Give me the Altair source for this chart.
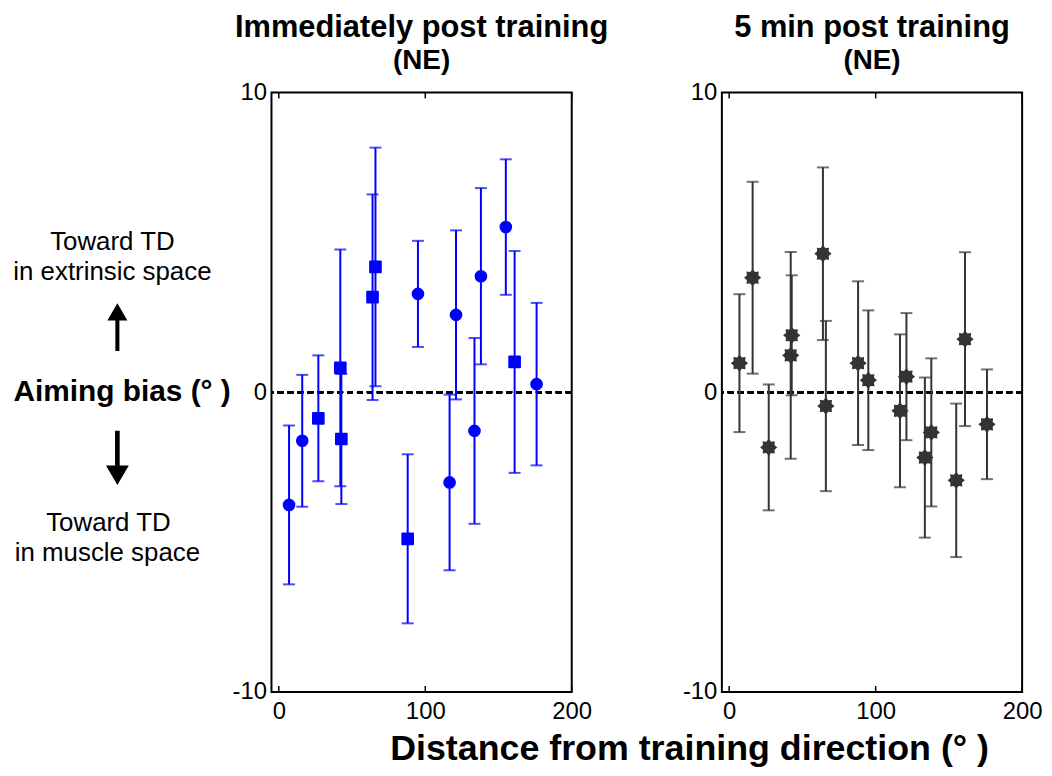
import math
import altair as alt
import pandas as pd

# ---------------- data ----------------
x_dist = [7, 16, 27, 42, 42.7, 64, 66, 88, 95, 116.6, 121, 133.6, 138, 155, 161, 176]

imm_bias = [-3.76, -1.62, -0.87, 0.81, -1.56, 3.17, 4.18, -4.89, 3.28, -3.01,
            2.58, -1.29, 3.87, 5.51, 1.01, 0.27]
imm_err = [2.65, 2.2, 2.1, 3.95, 2.17, 3.43, 3.98, 2.82, 1.77, 2.93,
           2.82, 3.1, 2.94, 2.26, 3.7, 2.71]
imm_shape = ["circle", "circle", "square", "square", "square", "square", "square",
             "square", "circle", "circle", "circle", "circle", "circle", "circle",
             "square", "circle"]

post5_bias = [0.97, 3.82, -1.84, 1.23, 1.90, 4.62, -0.46, 0.97, 0.40, -0.62,
              0.52, -2.18, -1.34, -2.94, 1.77, -1.07]
post5_err = [2.3, 3.2, 2.1, 3.45, 2.0, 2.88, 2.84, 2.73, 2.33, 2.55,
             2.12, 2.67, 2.47, 2.56, 2.9, 1.83]

x_ticks = [0, 100, 200]
y_ticks = [-10, 0, 10]

# ---------------- styling ----------------
FONT = "Liberation Sans"
W, H = 302, 603
BLUE = "#0000ff"
GRAY = "#333333"

# 8-point star marker for the second panel
pts = []
for k in range(16):
    a = math.pi * k / 8
    r = 1.0 if k % 2 == 0 else 0.72
    pts.append((r * math.sin(a), -r * math.cos(a)))
STAR = "M" + "L".join(f"{px:.3f},{py:.3f}" for px, py in pts) + "Z"

ARROW = "M0,-1L0.42,-0.28L0.085,-0.28L0.085,1L-0.085,1L-0.085,-0.28L-0.42,-0.28Z"

xs = alt.Scale(domain=[-5, 200], nice=False, zero=False)
ys = alt.Scale(domain=[-10, 10], nice=False, zero=False)


def make_df(bias, err, shape=None):
    d = pd.DataFrame({"x": x_dist, "bias": bias, "err": err})
    if shape is not None:
        d["shape"] = shape
    d["lo"] = d["bias"] - d["err"]
    d["hi"] = d["bias"] + d["err"]
    return d


def panel(df, color, title, point_layer, x_title=False, annotations=None):
    common = dict(ticks=False, domain=False, grid=False, labelFontSize=24,
                  labelFont=FONT, labelColor="black", labelFlush=False,
                  labelExpr="'' + datum.value")
    if x_title:
        x_axis = alt.Axis(values=x_ticks, labelPadding=8,
                          title="Distance from training direction (° )",
                          titleFont=FONT, titleFontSize=36, titleFontWeight="bold",
                          titleColor="black", titleX=420, titleY=57,
                          titleAlign="center", titleBaseline="middle", **common)
    else:
        x_axis = alt.Axis(values=x_ticks, labelPadding=8, title=None, **common)
    y_axis = alt.Axis(values=y_ticks, labelPadding=5, title=None, **common)

    base = alt.Chart(df)
    X = alt.X("x:Q", scale=xs, axis=x_axis)
    zero = alt.Chart(df).mark_rule(color="black", strokeWidth=2,
                                   strokeDash=[6, 4]).encode(
        y=alt.Y(datum=0, scale=ys, axis=y_axis))
    bars = base.mark_rule(color=color, strokeWidth=2).encode(
        x=X, y=alt.Y("lo:Q", scale=ys, axis=y_axis), y2="hi:Q")
    cap_lo = base.mark_tick(color=color, orient="horizontal", size=12,
                            thickness=2).encode(x=X, y=alt.Y("lo:Q", scale=ys))
    cap_hi = base.mark_tick(color=color, orient="horizontal", size=12,
                            thickness=2).encode(x=X, y=alt.Y("hi:Q", scale=ys))
    ticks_df = pd.DataFrame({"t": x_ticks})
    tick_b = alt.Chart(ticks_df).mark_rule(color="black", strokeWidth=1.5).encode(
        x=alt.X("t:Q", scale=xs), y=alt.value(H), y2=alt.value(H - 6))
    tick_t = alt.Chart(ticks_df).mark_rule(color="black", strokeWidth=1.5).encode(
        x=alt.X("t:Q", scale=xs), y=alt.value(0), y2=alt.value(6))

    layers = [zero, bars, cap_lo, cap_hi, point_layer(base, X), tick_b, tick_t]
    if annotations:
        layers += annotations
    return alt.layer(*layers).properties(
        width=W, height=H,
        title=alt.TitleParams(text=title, subtitle="(NE)", font=FONT, fontSize=31,
                              fontWeight="bold", color="black",
                              subtitleFont=FONT, subtitleFontSize=28,
                              subtitleFontWeight="bold", subtitleColor="black",
                              anchor="middle", offset=5, subtitlePadding=3))


def imm_points(base, X):
    return base.mark_point(filled=True, opacity=1, color=BLUE, stroke=BLUE,
                           strokeWidth=2, strokeJoin="round", size=115).encode(
        x=X, y=alt.Y("bias:Q", scale=ys),
        shape=alt.Shape("shape:N", scale=alt.Scale(domain=["circle", "square"],
                                                   range=["circle", "square"]),
                        legend=None))


def post_points(base, X):
    return base.mark_point(filled=True, opacity=1, color=GRAY, shape=STAR,
                           size=300).encode(x=X, y=alt.Y("bias:Q", scale=ys))


one = pd.DataFrame({"a": [0]})
annots = [
    alt.Chart(one).mark_text(text="Toward TD", font=FONT, fontSize=26,
                             color="black", align="center", baseline="middle")
    .encode(x=alt.value(-160), y=alt.Y(datum=5.02, scale=ys)),
    alt.Chart(one).mark_text(text="in extrinsic space", font=FONT, fontSize=26,
                             color="black", align="center", baseline="middle")
    .encode(x=alt.value(-160), y=alt.Y(datum=4.0, scale=ys)),
    alt.Chart(one).mark_text(text="Toward TD", font=FONT, fontSize=26,
                             color="black", align="center", baseline="middle")
    .encode(x=alt.value(-164), y=alt.Y(datum=-4.36, scale=ys)),
    alt.Chart(one).mark_text(text="in muscle space", font=FONT, fontSize=26,
                             color="black", align="center", baseline="middle")
    .encode(x=alt.value(-165), y=alt.Y(datum=-5.36, scale=ys)),
    alt.Chart(one).mark_text(text="Aiming bias (° )", font=FONT, fontSize=30,
                             fontWeight="bold", color="black", align="right",
                             baseline="middle")
    .encode(x=alt.value(-41), y=alt.Y(datum=0, scale=ys)),
    alt.Chart(one).mark_point(shape=ARROW, filled=True, opacity=1, color="black",
                              size=2300)
    .encode(x=alt.value(-155), y=alt.Y(datum=2.17, scale=ys)),
    alt.Chart(one).mark_point(shape=ARROW, filled=True, opacity=1, color="black",
                              size=3000, angle=180)
    .encode(x=alt.value(-155), y=alt.Y(datum=-2.19, scale=ys)),
]

left = panel(make_df(imm_bias, imm_err, imm_shape), BLUE,
             "Immediately post training", imm_points, x_title=True,
             annotations=annots)
right = panel(make_df(post5_bias, post5_err), GRAY, "5 min post training",
              post_points)

chart = alt.hconcat(left, right, spacing=151, bounds="flush").properties(
    autosize=alt.AutoSizeParams(type="none"),
    padding={"left": 265, "top": 81, "right": 777, "bottom": 679}
).configure(background="white").configure_view(stroke="black", strokeWidth=2)

chart.save("out.html", embed_options={"renderer": "svg", "actions": False})
